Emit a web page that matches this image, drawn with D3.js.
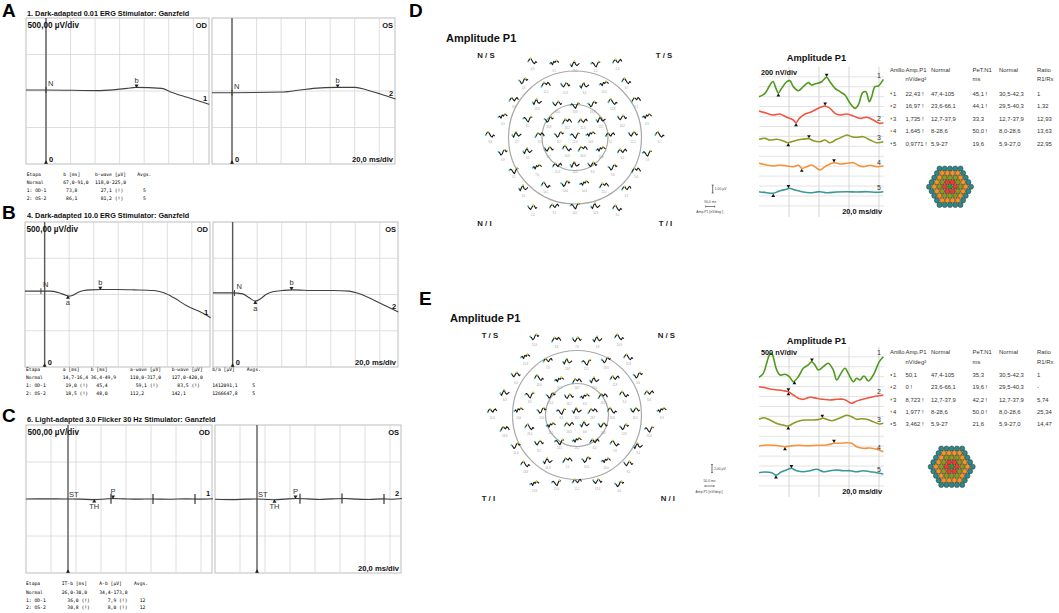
<!DOCTYPE html>
<html>
<head>
<meta charset="utf-8">
<script src="https://cdn.jsdelivr.net/npm/d3@7/dist/d3.min.js"></script>
<style>
body { margin: 0; background: #fff; }
svg { display: block; }
text { font-family: "Liberation Sans", Arial, sans-serif; fill: #111; }
.mono { font-family: "DejaVu Sans Mono", "Liberation Mono", monospace; white-space: pre; }
</style>
</head>
<body>
<svg id="fig" width="1059" height="613"></svg>
<script>
// ERG traces, [ms, µV]
var ergA_OD = [[-16.3,14],[0.5,14],[44,5],[66,36],[73,50],[94.4,36],[101,-9],[115,-87],[133,-183]];
var ergA_OS = [[-16.3,-23],[0.3,-23],[42,-14],[55.5,14],[66.4,36],[85.4,50],[100.4,50],[110,14],[121,-41],[133.3,-110]];
var ergB_OD = [[-16,46],[-3.3,46],[4.9,46],[11.7,23],[17.1,-9],[19.8,-23],[22.6,-14],[26.6,23],[32,55],[37.5,64],[46.2,68],[59.2,68],[72.8,64],[89,55],[97.2,23],[105.4,-46],[116.3,-160],[127.1,-242],[135.3,-320]];
var ergB_OS = [[-16,23],[0,23],[8.2,9],[13.6,-46],[18.5,-91],[23.1,-55],[27.2,0],[32.6,37],[40.8,55],[48.4,64],[67.9,55],[81.5,55],[95.1,46],[103.3,9],[114.1,-68],[125,-160],[135,-242]];
var ergC_OD = [[-33.6,0],[-10,2],[0,0],[10,-2],[21,-8],[30,0],[36,6],[45,2],[55,-2],[68,0],[80,-4],[95,2],[105,-2],[116,3]];
var ergC_OS = [[-33.6,-4],[-20,-8],[-8,-2],[0,0],[8,-6],[14,-10],[22,-2],[31,6],[40,2],[50,-6],[60,2],[70,6],[80,-2],[90,-6],[100,2],[108,-4],[116,6]];

// ERG markers: [type, ms, label]
var marksA_OD = [['N',0,'N'],['peak',73.8,'b']];
var marksA_OS = [['N',0,'N'],['peak',86.1,'b']];
var marksB_OD = [['N',-3,'N'],['trough',19.0,'a'],['peak',45.4,'b']];
var marksB_OS = [['N',1.5,'N'],['trough',18.5,'a'],['peak',48.0,'b']];
var marksC_OD = [['text',0,'ST'],['trough',21,'TH'],['peak',36.0,'P'],['tick',34.4],['tick',68],['tick',101.6]];
var marksC_OS = [['text',0,'ST'],['trough',14,'TH'],['peak',30.8,'P'],['tick',34.4],['tick',68],['tick',101.6]];

// ERG result tables
var tabA_head = ['Etapa','b [ms]','b-wave [µV]','Avgs.'];
var tabA_rows = [['Normal','67,0-91,0','118,0-225,0',''],
                 ['1: OD-1',' 73,8','  27,1 (!)','  5'],
                 ['2: OS-2',' 86,1','  81,2 (!)','  5']];
var tabB_head = ['Etapa','a [ms]','b [ms]','a-wave [µV]','b-wave [µV]','b/a [µV]','Avgs.'];
var tabB_rows = [['Normal','14,7-16,4','36,4-49,9','110,0-317,0','127,0-420,0','',''],
                 ['1: OD-1',' 19,0 (!)','  45,4','  59,1 (!)','  83,5 (!)','1412091,1','  5'],
                 ['2: OS-2',' 18,5 (!)','  48,0','112,2','142,1','1266647,8','  5']];
var tabC_head = ['Etapa','IT-b [ms]','A-b [µV]','Avgs.'];
var tabC_rows = [['Normal','26,0-30,0','34,4-173,0',''],
                 ['1: OD-1','  36,0 (!)','   7,9 (!)','  12'],
                 ['2: OS-2','  30,8 (!)','   8,0 (!)','  12']];

// mfERG ring averages, [ms, nV]
var mfD1 = [[0,-134],[4,-82],[7.3,46],[9.3,100],[11.3,-5],[12.9,-77],[15.1,-5],[18.5,97],[20.7,112],[22.9,20],[26.2,-42],[29.5,20],[32.9,82],[35.1,46],[37.3,62],[41.8,97],[45.1,165],[47.3,97],[50.7,-5],[54,-57],[57.3,-108],[60.7,-236],[64,-313],[66.2,-262],[69.1,-72],[71.3,-57],[73.5,-211],[75.1,-134],[77.3,20],[79.5,31],[82.9,134]];
var mfD2 = [[0,62],[5.1,26],[9.5,0],[14,15],[18.5,-35],[22.9,-77],[24.7,-118],[26.9,-51],[30.7,15],[35.1,51],[39.5,103],[44,139],[47.3,103],[50.7,26],[54,0],[58.5,15],[62.9,-15],[67.3,-51],[71.8,-35],[76.2,-77],[80.2,-128],[82.9,-118]];
var mfD3 = [[0,3],[4,18],[7.3,-8],[11.8,3],[16.2,-23],[19.5,-49],[24,-18],[28.5,3],[33.3,12],[36.2,-18],[40.7,-34],[44,-8],[47.3,-49],[51.8,3],[55.1,34],[58.5,69],[61.8,43],[65.1,34],[69.5,43],[74,-8],[78.5,-49],[82.9,-34]];
var mfD4 = [[0,34],[5.1,8],[9.5,-8],[14,8],[18.5,-8],[22.9,-18],[26.2,3],[28.5,-43],[31.8,-18],[35.1,8],[38.5,-43],[40.7,-69],[44,-18],[47.3,23],[50.2,43],[54,23],[58.5,34],[62.9,43],[66.2,3],[69.5,-18],[74,3],[78.5,-18],[82.9,-8]];
var mfD5 = [[0,5],[5.1,-11],[9.5,-20],[14,20],[18.5,42],[20.2,57],[24,31],[28.5,5],[34,-11],[40.7,5],[45.1,-11],[51.8,0],[58.5,5],[65.1,0],[71.8,5],[78.5,-5],[82.9,5]];
var mfE1 = [[0,-281],[2.9,-128],[5.1,258],[6.9,578],[8.5,643],[10,385],[11.8,0],[14,-193],[17.3,-166],[20.2,-258],[22.9,-450],[26.2,-258],[29.5,65],[32.9,193],[35.1,320],[37.3,193],[39.5,0],[42.9,128],[46.2,258],[49.5,0],[51.8,-385],[54,-193],[57.3,65],[59.5,-128],[62.9,-450],[65.1,-320],[67.3,-385],[70,-231],[72.9,-424],[76.2,-193],[80.2,320],[82.9,512]];
var mfE2 = [[0,243],[4,204],[8.5,142],[12.9,116],[16.2,89],[19.5,50],[22.9,-77],[26.2,-204],[29.5,-243],[34,-166],[38.5,-204],[42.9,-243],[47.3,-270],[51.8,-243],[56.2,-243],[58.5,-297],[61.8,-397],[64,-336],[67.3,-270],[71.8,-204],[76.2,-142],[82.9,-77]];
var mfE3 = [[0,27],[2.9,89],[6.2,27],[9.5,-65],[12.9,-154],[16.2,-193],[19.5,-231],[22.9,-127],[27.3,-27],[31.8,0],[36.2,0],[40.7,27],[42.5,77],[45.1,27],[48.5,-27],[51.8,27],[55.1,104],[58.5,181],[61.8,127],[65.1,27],[68.5,50],[71.8,27],[76.2,-65],[80.2,-154],[82.9,-127]];
var mfE4 = [[0,0],[5.1,38],[9.5,27],[14,0],[17.3,-27],[20.7,0],[26.2,27],[31.8,12],[38.5,27],[45.1,38],[50.2,104],[54,104],[58.5,127],[61.8,104],[65.1,-27],[69.5,-89],[74,-77],[78.5,-127],[82.9,-220]];
var mfE5 = [[0,-46],[4,-19],[8.5,-46],[11.3,-135],[15.1,-8],[19.5,85],[21.3,123],[25.1,31],[29.5,-8],[34,31],[38.5,85],[42.9,-8],[47.3,31],[51.8,58],[56.2,31],[60.7,31],[65.1,-8],[69.5,31],[74,-8],[78.5,-46],[82.9,-96]];
var mfD_troughMs = [12.9, 24.7, 19.5, 28.5, 9.5];
var mfD_peakMs = [45.1, 44.1, 33.3, 50.0, 19.6];
var mfE_troughMs = [23.6, 19.6, 19.5, 17.3, 11.3];
var mfE_peakMs = [35.3, 19.6, 42.2, 50.0, 21.6];

// ring tables
var ringHead1 = ['Anillo','Amp.P1','Normal','PeT.N1','Normal','Ratio'];
var ringHead2 = ['','nV/deg²','','ms','','R1/Rx'];
var ringD_amp = ['22,43 !','16,97 !','1,735 !','1,645 !','0,9771 !'];
var ringD_ampNorm = ['47,4-105','23,6-66,1','12,7-37,9','8-28,6','5,9-27'];
var ringD_pet = ['45,1 !','44,1 !','33,3','50,0 !','19,6'];
var ringD_petNorm = ['30,5-42,3','29,5-40,3','12,7-37,9','8,0-28,6','5,9-27,0'];
var ringD_ratio = ['1','1,32','12,93','13,63','22,95'];
var ringE_amp = ['50,1','0 !','8,723 !','1,977 !','3,462 !'];
var ringE_ampNorm = ['47,4-105','23,6-66,1','12,7-37,9','8-28,6','5,9-27'];
var ringE_pet = ['35,3','19,6 !','42,2 !','50,0 !','21,6'];
var ringE_petNorm = ['30,5-42,3','29,5-40,3','12,7-37,9','8,0-28,6','5,9-27,0'];
var ringE_ratio = ['1','-','5,74','25,34','14,47'];

// 61-hexagon trace array: shape index per element, row by row
var miniShapes = [
  [0, 1, -1, 2, 1, 3, 2, 1],
  [0, -2, 1, 3, 0, -1, 0, 1],
  [1, 0, -2, -1, 2, 3, 1, 2],
  [-1, 1, 2, 0, -1, 1, 2, 0],
  [0, 2, 3, 1, -1, -2, 0, -1],
  [2, 0, -1, 1, 3, 2, 0, 1],
  [0, 1, 0, -2, -3, 0, 2, 1],
  [-2, 0, 2, 1, 0, 2, 1, -1]
];
var hexRowsD = ['40163','275104','3156247','06273150','417260354','21547036','6031527','142073','53614'];
var hexRowsE = ['27514','031624','5407132','16250743','302617450','74031526','2560341','417205','06352'];
var hexAmpD = [['6,9','8,1','25,0','5,2','2,4'],
  ['1,8','11,2','11,3','8,4','13,5','6,7'],
  ['3,6','22,0','14,6','19,8','16,7','13,8','9,2'],
  ['5,9','6,1','18,3','20,2','11,5','12,1','16,2','4,5'],
  ['6,9','3,7','9,5','15,7','22,4','10,5','7,0','11,2','6,1'],
  ['3,9','8,3','2,7','10,8','40,0','11,6','6,2','7,8'],
  ['3,1','7,6','11,3','14,0','8,4','9,6','5,6'],
  ['3,5','14,1','16,4','14,4','15,1','6,7'],
  ['2,4','9,1','14,1','10,8','3,0']];
var hexAmpE = [['13,0','3,8','7,6','3,9','10,9'],
  ['15,3','7,8','13,8','11,1','19,0','11,8'],
  ['9,0','24,0','19,2','16,7','18,0','11,8','8,6'],
  ['6,3','8,3','21,2','18,2','8,3','29,1','9,4','6,6'],
  ['11,6','13,0','13,0','6,3','33,1','28,7','16,8','13,1','6,9'],
  ['16,9','23,0','21,1','26,8','8,6','10,8','12,9','20,0'],
  ['11,6','8,2','13,1','28,2','8,4','7,8','9,4'],
  ['13,8','16,9','2,1','15,6','16,0','9,5'],
  ['13,6','15,0','11,1','13,3','6,0']];

var ringColors = ['#4f9a1e','#f2553f','#8e9a22','#f7923a','#3a9898'];
var hexColors = ['#2f9a2a','#ef3b2c','#8a9a1c','#f7931e','#2a8a8a'];

var svg = d3.select('#fig');
var triUp = d3.symbol().type(d3.symbolTriangle).size(7);

function traceAt(tr, ms) {
  var i = d3.bisector(function(d) { return d[0]; }).left(tr, ms);
  if (i <= 0) return tr[0][1];
  if (i >= tr.length) return tr[tr.length - 1][1];
  var a = tr[i - 1], b = tr[i];
  return a[1] + (b[1] - a[1]) * (ms - a[0]) / (b[0] - a[0]);
}

function letter(t, x, y) {
  svg.append('text').attr('x', x).attr('y', y).style('fill', '#000')
     .attr('font-size', 19).attr('font-weight', 'bold').text(t);
}

// ---------- ERG panels A, B, C ----------
function drawErg(p) {
  letter(p.letter, 2, p.letterY);
  svg.append('text').attr('x', 27).attr('y', p.titleY)
     .attr('font-size', 7.3).attr('font-weight', 'bold')
     .text(p.title);

  p.boxes.forEach(function(b, bi) {
    var x = d3.scaleLinear()
      .domain([p.msMin, p.msMin + (b.r - b.l) / p.pxms]).range([b.l, b.r]);
    var y = d3.scaleLinear().domain([-1000, 1000]).range([p.bottom, p.top]);
    var g = svg.append('g');

    g.append('rect').attr('x', b.l).attr('y', p.top)
     .attr('width', b.r - b.l).attr('height', p.bottom - p.top)
     .attr('fill', '#fff').attr('stroke', '#bdbdbd').attr('stroke-width', 1);

    var vg = d3.range(p.gridStart, x.domain()[1], p.gridStep)
      .filter(function(v) { return v > x.domain()[0] + 1; });
    g.selectAll('.vg').data(vg).enter().append('line')
     .attr('x1', x).attr('x2', x).attr('y1', p.top).attr('y2', p.bottom)
     .attr('stroke', '#d6d6d6').attr('stroke-width', 0.8);
    g.selectAll('.hg').data([-500, 0, 500]).enter().append('line')
     .attr('x1', b.l).attr('x2', b.r).attr('y1', y).attr('y2', y)
     .attr('stroke', '#d6d6d6').attr('stroke-width', 0.8);

    // stimulus (zero) line
    g.append('line').attr('x1', x(0)).attr('x2', x(0))
     .attr('y1', p.top).attr('y2', p.bottom)
     .attr('stroke', '#5a5a5a').attr('stroke-width', 1.4);
    g.append('path').attr('d', triUp)
     .attr('transform', 'translate(' + x(0) + ',' + (p.bottom - 1.5) + ')')
     .attr('fill', '#222');
    if (p.showZero) {
      g.append('text').attr('x', x(0) + 3).attr('y', p.bottom - 2)
       .attr('font-size', 7.5).attr('font-weight', 'bold').text('0');
    }

    // waveform
    var line = d3.line().x(function(d) { return x(d[0]); })
      .y(function(d) { return y(d[1]); }).curve(d3.curveMonotoneX);
    g.append('path').datum(b.trace).attr('d', line)
     .attr('fill', 'none').attr('stroke', '#404040').attr('stroke-width', 1.1);

    b.marks.forEach(function(m) {
      var mx = x(m[1]), my = y(traceAt(b.trace, m[1]));
      if (m[0] === 'N') {
        g.append('line').attr('x1', mx).attr('x2', mx).attr('y1', my - 3).attr('y2', my + 3)
         .attr('stroke', '#333').attr('stroke-width', 0.9);
        g.append('text').attr('x', mx + 2).attr('y', my - 4)
         .attr('font-size', 7.5).style('fill', '#333').text(m[2]);
      } else if (m[0] === 'peak') {
        g.append('path').attr('d', triUp)
         .attr('transform', 'translate(' + mx + ',' + (my - 1.8) + ') rotate(180)')
         .attr('fill', '#222');
        g.append('text').attr('x', mx).attr('y', my - 4.5).attr('text-anchor', 'middle')
         .attr('font-size', 7.5).style('fill', '#333').text(m[2]);
      } else if (m[0] === 'trough') {
        g.append('path').attr('d', triUp)
         .attr('transform', 'translate(' + mx + ',' + (my + 1.8) + ')')
         .attr('fill', '#222');
        g.append('text').attr('x', mx).attr('y', my + 9.5).attr('text-anchor', 'middle')
         .attr('font-size', 7.5).style('fill', '#333').text(m[2]);
      } else if (m[0] === 'text') {
        g.append('text').attr('x', mx + 1).attr('y', my - 2.5)
         .attr('font-size', 7.5).style('fill', '#333').text(m[2]);
      } else if (m[0] === 'tick') {
        g.append('line').attr('x1', mx).attr('x2', mx).attr('y1', my - 5).attr('y2', my + 5)
         .attr('stroke', '#333').attr('stroke-width', 1.2);
      }
    });

    var last = b.trace[b.trace.length - 1];
    g.append('text').attr('x', b.r - 4).attr('y', y(last[1]) - 3)
     .attr('text-anchor', 'middle').attr('font-size', 7.5).attr('font-weight', 'bold')
     .text(b.num);

    g.append('text').attr('x', b.r - 2).attr('y', p.top + 9.5).attr('text-anchor', 'end')
     .attr('font-size', 7.5).attr('font-weight', 'bold').text(b.eye);
    if (bi === 0) {
      g.append('text').attr('x', b.l + 1.5).attr('y', p.top + 9.5)
       .attr('font-size', 8.2).attr('font-weight', 'bold').text('500,00 µV/div');
    } else {
      g.append('text').attr('x', b.r - 2).attr('y', p.bottom - 2.5).attr('text-anchor', 'end')
       .attr('font-size', 7.6).attr('font-weight', 'bold').text('20,0 ms/div');
    }
  });

  // result table
  var rows = [p.head].concat(p.rows);
  rows.forEach(function(r, ri) {
    r.forEach(function(c, ci) {
      svg.append('text').attr('class', 'mono')
        .attr('x', p.tabCols[ci]).attr('y', p.tabY[ri])
        .attr('font-size', 4.7).style('fill', '#000').text(c);
    });
  });
}

var ergPanels = [
  { letter: 'A', letterY: 17, title: '1. Dark-adapted 0.01 ERG  Stimulator: Ganzfeld', titleY: 15.5,
    top: 18, bottom: 164, msMin: -16.3, pxms: 1.227, gridStart: 0, gridStep: 20, showZero: true,
    boxes: [{ l: 26, r: 209, eye: 'OD', num: '1', trace: ergA_OD, marks: marksA_OD },
            { l: 212, r: 395, eye: 'OS', num: '2', trace: ergA_OS, marks: marksA_OS }],
    head: tabA_head, rows: tabA_rows, tabCols: [26.7, 63.3, 95, 137.3], tabY: [175.7, 184.3, 192.3, 200.3] },
  { letter: 'B', letterY: 218.5, title: '4. Dark-adapted 10.0 ERG  Stimulator: Ganzfeld', titleY: 218,
    top: 222, bottom: 367, msMin: -16, pxms: 1.227, gridStart: 0, gridStep: 20, showZero: true,
    boxes: [{ l: 25, r: 210, eye: 'OD', num: '1', trace: ergB_OD, marks: marksB_OD },
            { l: 213, r: 398, eye: 'OS', num: '2', trace: ergB_OS, marks: marksB_OS }],
    head: tabB_head, rows: tabB_rows, tabCols: [26, 62.7, 90.7, 130, 171.7, 212.3, 246.7], tabY: [371.2, 378.7, 387, 395.2] },
  { letter: 'C', letterY: 421.7, title: '6. Light-adapted 3.0 Flicker 30 Hz Stimulator: Ganzfeld', titleY: 421.5,
    top: 425, bottom: 573, msMin: -33.6, pxms: 1.25, gridStart: -13.6, gridStep: 20, showZero: false,
    boxes: [{ l: 26, r: 212, eye: 'OD', num: '1', trace: ergC_OD, marks: marksC_OD },
            { l: 215, r: 401, eye: 'OS', num: '2', trace: ergC_OS, marks: marksC_OS }],
    head: tabC_head, rows: tabC_rows, tabCols: [26, 61.7, 99.3, 134], tabY: [585, 593.5, 601.7, 609.3] }
];
ergPanels.forEach(drawErg);

// ---------- mfERG panels D, E ----------
function drawMf(p) {
  letter(p.letter, p.letterX, p.letterY);
  svg.append('text').attr('x', p.titleX).attr('y', p.titleY)
     .attr('font-size', 11).attr('font-weight', 'bold').text('Amplitude P1');

  // quadrant labels
  p.quads.forEach(function(q) {
    svg.append('text').attr('x', q[1]).attr('y', q[2])
       .attr('text-anchor', q[3]).attr('font-size', 7.8).attr('font-weight', 'bold')
       .style('fill', '#222').style('white-space', 'pre').text(q[0]);
  });

  // eccentricity rings
  [p.rOuter, p.rInner].forEach(function(r) {
    svg.append('circle').attr('cx', p.cx).attr('cy', p.cy).attr('r', r)
       .attr('fill', 'none').attr('stroke', '#a8a8a8').attr('stroke-width', 1.2);
  });

  // 61 local responses in hexagonal layout (radially stretched)
  var warp = d3.scaleLinear().domain([0, 1, 2, 3, 4]).range([0, 15.8, 35.2, 58.2, 84.8]);
  var mx = d3.scaleLinear().domain([0, 7]).range([-4.5, 4.5]);
  var my = d3.scaleLinear().domain([-3, 3]).range([3.3, -3.3]);
  var mini = d3.line().x(function(d, i) { return mx(i); }).y(function(d) { return my(d); });
  p.rows.forEach(function(rowStr, ri) {
    var n = rowStr.length;
    for (var i = 0; i < n; i++) {
      var hx = i - (n - 1) / 2, hy = (ri - 4) * Math.sqrt(3) / 2;
      var rr = Math.sqrt(hx * hx + hy * hy);
      var f = rr === 0 ? 0 : warp(rr) / rr;
      var px = p.tcx + hx * f, py = p.tcy + hy * f;
      var shape = miniShapes[+rowStr[i]];
      var g = svg.append('g').attr('transform', 'translate(' + px + ',' + (py - 2) + ')');
      g.append('path').datum(shape).attr('d', mini)
       .attr('fill', 'none').attr('stroke', '#1a1a1a').attr('stroke-width', 1.1)
       .attr('stroke-linejoin', 'round');
      var imax = d3.maxIndex(shape);
      g.append('circle').attr('cx', mx(0)).attr('cy', my(shape[0])).attr('r', 0.9)
       .attr('fill', '#35c3cc');
      g.append('circle').attr('cx', mx(imax)).attr('cy', my(shape[imax])).attr('r', 0.9)
       .attr('fill', '#d8d830');
      svg.append('text').attr('x', px).attr('y', py + 6)
         .attr('text-anchor', 'middle')
         .attr('font-size', 2.6).style('fill', '#999').text(p.amps[ri][i]);
    }
  });

  // calibration legend
  var lg = p.legend;
  svg.append('line').attr('x1', lg.x).attr('x2', lg.x).attr('y1', lg.y).attr('y2', lg.y + 8)
     .attr('stroke', '#333').attr('stroke-width', 0.7);
  [lg.y, lg.y + 8].forEach(function(v) {
    svg.append('line').attr('x1', lg.x - 1).attr('x2', lg.x + 1).attr('y1', v).attr('y2', v)
       .attr('stroke', '#333').attr('stroke-width', 0.6);
  });
  svg.append('text').attr('x', lg.x + 2).attr('y', lg.y + 5.3).attr('font-size', 3.4)
     .style('fill', '#444').text(lg.amp);
  svg.append('text').attr('x', lg.x - 2.5).attr('y', lg.y + 17.5).attr('text-anchor', 'middle')
     .attr('font-size', 3.4).style('fill', '#444').text('50,0 ms');
  svg.append('line').attr('x1', lg.x - 7).attr('x2', lg.x + 2).attr('y1', lg.y + 21.5).attr('y2', lg.y + 21.5)
     .attr('stroke', '#333').attr('stroke-width', 0.6);
  [lg.x - 7, lg.x + 2].forEach(function(v) {
    svg.append('line').attr('x1', v).attr('x2', v).attr('y1', lg.y + 20.5).attr('y2', lg.y + 22.5)
       .attr('stroke', '#333').attr('stroke-width', 0.6);
  });
  svg.append('text').attr('x', lg.x - 3).attr('y', lg.y + 28).attr('text-anchor', 'middle')
     .attr('font-size', 3.4).style('fill', '#444').text('Amp.P1  [nV/deg²]');

  // ring-average traces
  var x = d3.scaleLinear().domain([0, 20]).range([759, 789]);
  var gr = svg.append('g');
  var hLines = d3.range(0, 14).map(function(k) { return p.gridTop + k * 9.93; });
  gr.selectAll('.h').data(hLines).enter().append('line')
    .attr('x1', 759).attr('x2', 884).attr('y1', function(d) { return d; }).attr('y2', function(d) { return d; })
    .attr('stroke', '#dcdcdc').attr('stroke-width', 0.8);
  gr.selectAll('.v').data([20, 40, 60, 80]).enter().append('line')
    .attr('x1', x).attr('x2', x).attr('y1', p.gridTop - 10).attr('y2', p.gridTop + 140)
    .attr('stroke', '#d0d0d0').attr('stroke-width', 0.9);

  svg.append('text').attr('x', 816.5).attr('y', p.rTitleY).attr('text-anchor', 'middle')
     .attr('font-size', 9.3).attr('font-weight', 'bold').text('Amplitude P1');
  svg.append('text').attr('x', 761).attr('y', p.gridTop - 2.3)
     .attr('font-size', 7.3).attr('font-weight', 'bold').text(p.unit);
  svg.append('text').attr('x', 882).attr('y', p.gridTop + 137.5).attr('text-anchor', 'end')
     .attr('font-size', 7.4).attr('font-weight', 'bold').text('20,0 ms/div');

  p.traces.forEach(function(tr, ti) {
    var base = p.bases[ti];
    var y = d3.scaleLinear().domain([0, p.nvPerDiv]).range([base, base - 13]);
    var line = d3.line().x(function(d) { return x(d[0]); }).y(function(d) { return y(d[1]); })
      .curve(d3.curveCatmullRom.alpha(0.5));
    gr.append('path').datum(tr).attr('d', line)
      .attr('fill', 'none').attr('stroke', ringColors[ti]).attr('stroke-width', 1.6);
    var tU = p.troughs[ti], tD = p.peaks[ti];
    gr.append('path').attr('d', d3.symbol().type(d3.symbolTriangle).size(6))
      .attr('transform', 'translate(' + x(tU) + ',' + (y(traceAt(tr, tU)) + 2.5) + ')')
      .attr('fill', '#111');
    gr.append('path').attr('d', d3.symbol().type(d3.symbolTriangle).size(6))
      .attr('transform', 'translate(' + x(tD) + ',' + (y(traceAt(tr, tD)) - 2.5) + ') rotate(180)')
      .attr('fill', '#111');
    var last = tr[tr.length - 1];
    gr.append('text').attr('x', 879).attr('y', y(last[1]) - 1.5).attr('text-anchor', 'middle')
      .attr('font-size', 7).style('fill', '#333').text(ti + 1);
  });

  // table
  var cols = [890, 905.5, 931, 972.5, 999, 1037];
  [ringHead1, ringHead2].forEach(function(h, hi) {
    h.forEach(function(c, ci) {
      svg.append('text').attr('x', cols[ci]).attr('y', p.tabTop + hi * 9.6)
        .attr('font-size', 5.9).style('fill', '#333').text(c);
    });
  });
  var cells = [p.amp, p.ampNorm, p.pet, p.petNorm, p.ratio];
  for (var r = 0; r < 5; r++) {
    var ty = p.rowTop + r * p.rowStep;
    svg.append('circle').attr('cx', 891.3).attr('cy', ty - 2).attr('r', 0.9).attr('fill', ringColors[r]);
    svg.append('text').attr('x', 893).attr('y', ty).attr('font-size', 5.9).style('fill', '#333').text(r + 1);
    cells.forEach(function(col, ci) {
      svg.append('text').attr('x', cols[ci + 1]).attr('y', ty)
        .attr('font-size', 5.9).style('fill', '#333').text(col[r]);
    });
  }

  // ring map icon
  var step = 5.25;
  d3.range(9).forEach(function(ri) {
    var n = 9 - Math.abs(ri - 4);
    d3.range(n).forEach(function(i) {
      var hx = i - (n - 1) / 2, hy = (ri - 4);
      // axial hex distance from centre
      var q = hx - hy / 2, s = hy;
      var dist = Math.max(Math.abs(q), Math.abs(s), Math.abs(q + s));
      svg.append('circle')
        .attr('cx', p.hexX + hx * step).attr('cy', p.hexY + hy * step * 0.866)
        .attr('r', 2.55).attr('fill', hexColors[Math.round(dist)])
        .attr('stroke', '#333').attr('stroke-width', 0.5);
    });
  });
}

drawMf({
  letter: 'D', letterX: 409, letterY: 17, titleX: 446, titleY: 42,
  quads: [['N / S', 477.3, 58, 'start'], ['T / S', 672.3, 58, 'end'],
          ['N / I', 477.3, 226, 'start'], ['T / I', 672.3, 226, 'end']],
  cx: 575, cy: 137.5, rOuter: 66.5, rInner: 33, tcx: 575, tcy: 137,
  rows: hexRowsD, amps: hexAmpD,
  legend: { x: 712.7, y: 185, amp: '1,00 µV' },
  gridTop: 76.8, rTitleY: 60.5, unit: '200 nV/div', nvPerDiv: 200,
  traces: [mfD1, mfD2, mfD3, mfD4, mfD5], bases: [88, 115, 139.5, 165.5, 192],
  troughs: mfD_troughMs, peaks: mfD_peakMs,
  tabTop: 71.5, rowTop: 95.5, rowStep: 12.5,
  amp: ringD_amp, ampNorm: ringD_ampNorm, pet: ringD_pet, petNorm: ringD_petNorm, ratio: ringD_ratio,
  hexX: 950, hexY: 186.7
});
drawMf({
  letter: 'E', letterX: 419, letterY: 305, titleX: 450, titleY: 322,
  quads: [['T / S', 481.7, 338, 'start'], ['N / S', 675, 338, 'end'],
          ['T / I', 481.7, 501, 'start'], ['N / I', 675, 501, 'end']],
  cx: 577, cy: 415, rOuter: 64.5, rInner: 31.5, tcx: 577, tcy: 413,
  rows: hexRowsE, amps: hexAmpE,
  legend: { x: 712, y: 464.5, amp: '2,00 µV' },
  gridTop: 356.8, rTitleY: 344, unit: '500 nV/div', nvPerDiv: 500,
  traces: [mfE1, mfE2, mfE3, mfE4, mfE5], bases: [370, 393, 420, 446, 471.5],
  troughs: mfE_troughMs, peaks: mfE_peakMs,
  tabTop: 354, rowTop: 377, rowStep: 12.25,
  amp: ringE_amp, ampNorm: ringE_ampNorm, pet: ringE_pet, petNorm: ringE_petNorm, ratio: ringE_ratio,
  hexX: 951.7, hexY: 466.7
});
</script>
</body>
</html>
